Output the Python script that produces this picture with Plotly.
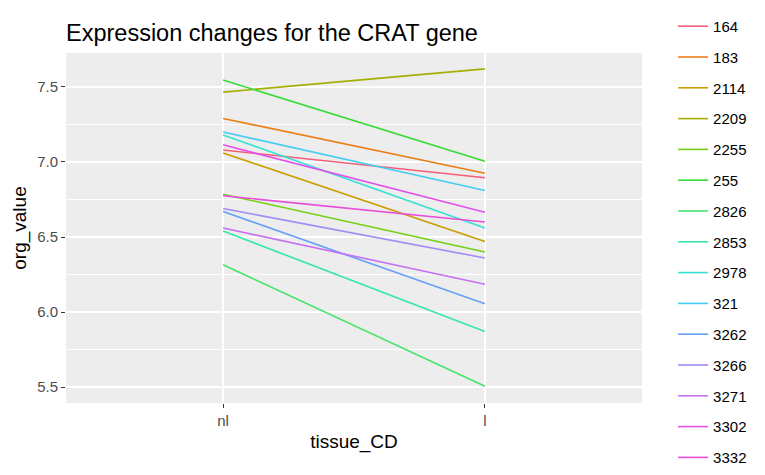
import plotly.graph_objects as go

tissues = ["nl", "l"]
patients = ["164", "183", "2114", "2209", "2255", "255", "2826", "2853",
            "2978", "321", "3262", "3266", "3271", "3302", "3332"]
nl_values = [7.08, 7.29, 7.06, 7.465, 6.785, 7.546, 6.315, 6.54,
             7.18, 7.20, 6.67, 6.69, 6.56, 7.114, 6.775]
l_values = [6.895, 6.925, 6.47, 7.62, 6.40, 7.005, 5.505, 5.87,
            6.56, 6.81, 6.055, 6.36, 6.185, 6.665, 6.60]
colors = ["#F45E7A", "#EA7E16", "#CA9E00", "#A4B000", "#74D014", "#34DC34",
          "#48E46C", "#34E8A4", "#36E2D4", "#44CCF2", "#66A0F6", "#A48AF6",
          "#C670F2", "#E250EC", "#E84EDA"]

FONT = "Liberation Sans, Arial, sans-serif"

fig = go.Figure()
for p, a, b, c in zip(patients, nl_values, l_values, colors):
    fig.add_trace(go.Scatter(
        x=tissues, y=[a, b], mode="lines", name=p, legendgroup=p,
        line=dict(color=c, width=1.6),
    ))

fig.update_layout(
    width=765, height=475,
    margin=dict(l=58, r=131, t=45, b=80, autoexpand=False),
    paper_bgcolor="white",
    plot_bgcolor="#EDEDED",
    font=dict(family=FONT, color="#000000"),
    title=dict(text="Expression changes for the CRAT gene",
               x=58 / 765, xanchor="left", y=1 - 25 / 475, yanchor="middle",
               font=dict(size=23.5, color="black", family=FONT)),
    showlegend=True,
    legend=dict(x=1.054, xanchor="left", y=1.123, yanchor="top",
                font=dict(size=15, color="black", family=FONT),
                tracegroupgap=8.3, bgcolor="rgba(0,0,0,0)",
                maxheight=600),
)

fig.update_xaxes(
    type="category", categoryorder="array", categoryarray=tissues,
    range=[-0.6, 1.6], automargin=False,
    showgrid=True, gridcolor="white", gridwidth=1.5,
    zeroline=False, showline=False,
    ticks="outside", ticklen=4, tickcolor="#333333", tickwidth=1,
    tickfont=dict(size=15, color="#4D4D4D", family=FONT),
    title=dict(text="tissue_CD", font=dict(size=19, color="black", family=FONT),
               standoff=6),
)
fig.update_yaxes(
    range=[5.394, 7.726], automargin=False,
    tickvals=[5.5, 6.0, 6.5, 7.0, 7.5],
    ticktext=["5.5", "6.0", "6.5", "7.0", "7.5"],
    showgrid=True, gridcolor="white", gridwidth=1.5,
    minor=dict(tickvals=[5.75, 6.25, 6.75, 7.25], showgrid=True,
               gridcolor="white", gridwidth=0.7, ticks=""),
    zeroline=False, showline=False,
    ticks="outside", ticklen=4, tickcolor="#333333", tickwidth=1,
    tickfont=dict(size=15, color="#4D4D4D", family=FONT),
    title=dict(text="org_value", font=dict(size=19, color="black", family=FONT),
               standoff=5),
)

fig.write_html("out.html")
